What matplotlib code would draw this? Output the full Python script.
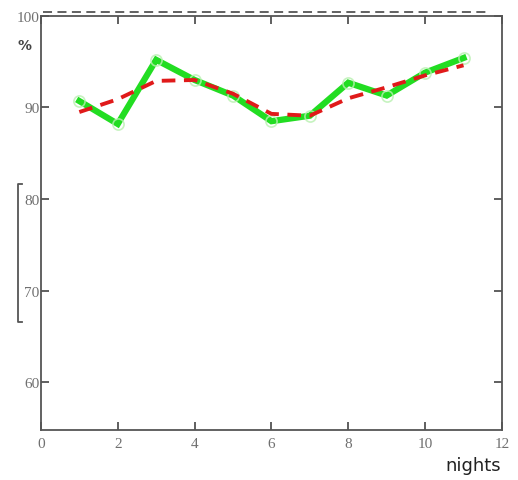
import matplotlib
matplotlib.use("Agg")
import matplotlib.pyplot as plt
from matplotlib.lines import Line2D

# data
nights = [1, 2, 3, 4, 5, 6, 7, 8, 9, 10, 11]
measured = [90.7, 88.2, 95.2, 93.0, 91.3, 88.5, 89.1, 92.7, 91.3, 93.8, 95.4]
smoothed = [89.5, 90.9, 92.9, 93.0, 91.5, 89.3, 89.1, 91.0, 92.2, 93.5, 94.6]
xticks = [0, 2, 4, 6, 8, 10, 12]
yticks = [60, 70, 80, 90, 100]

fig = plt.figure(figsize=(5.18, 4.81), dpi=100)
ax = fig.add_axes([0.079, 0.104, 0.890, 0.861])

ax.plot(nights, measured, color='#22dd22', lw=4.5, solid_joinstyle='miter', zorder=2)
ax.plot(nights, measured, ls='none', marker='o', ms=8, mfc='none',
        mec='#b8f0b0', mew=1.2, alpha=0.8, zorder=2)
ax.plot(nights, smoothed, color='#e01a1a', lw=2.8, ls=(0, (3.5, 2.2)), zorder=3)

ax.set_xlim(0, 12)
ax.set_ylim(54.8, 100)
ax.set_xticks(xticks)
ax.set_yticks(yticks)
ax.tick_params(direction='in', top=True, right=True, length=6, width=1.2,
               color='#444444', labelcolor='#707070', labelsize=11, pad=1)
ax.tick_params(axis='x', pad=5)
for lab in ax.get_xticklabels() + ax.get_yticklabels():
    lab.set_family('Liberation Serif')
for s in ax.spines.values():
    s.set_color('#555555')
    s.set_linewidth(1.3)

# dashed line just above the top of the frame
ax.plot([0.05, 11.7], [100.45, 100.45], color='#555555', lw=1.3,
        ls=(0, (5, 3)), clip_on=False)

fig.text(0.048, 0.905, '%', fontsize=10, fontweight='bold', color='#444444',
         family='DejaVu Sans', ha='center', va='center')
fig.text(0.968, 0.031, 'nights', fontsize=13, color='#222222',
         family='DejaVu Sans', ha='right', va='center')

# bracket on the left side
bx, y0, y1 = 0.034, 1 - 185 / 481, 1 - 323 / 481
fig.add_artist(Line2D([bx + 0.008, bx, bx, bx + 0.008], [y0, y0, y1, y1],
                      color='#555555', lw=1.3, transform=fig.transFigure))

fig.savefig('out.png', dpi=100)
